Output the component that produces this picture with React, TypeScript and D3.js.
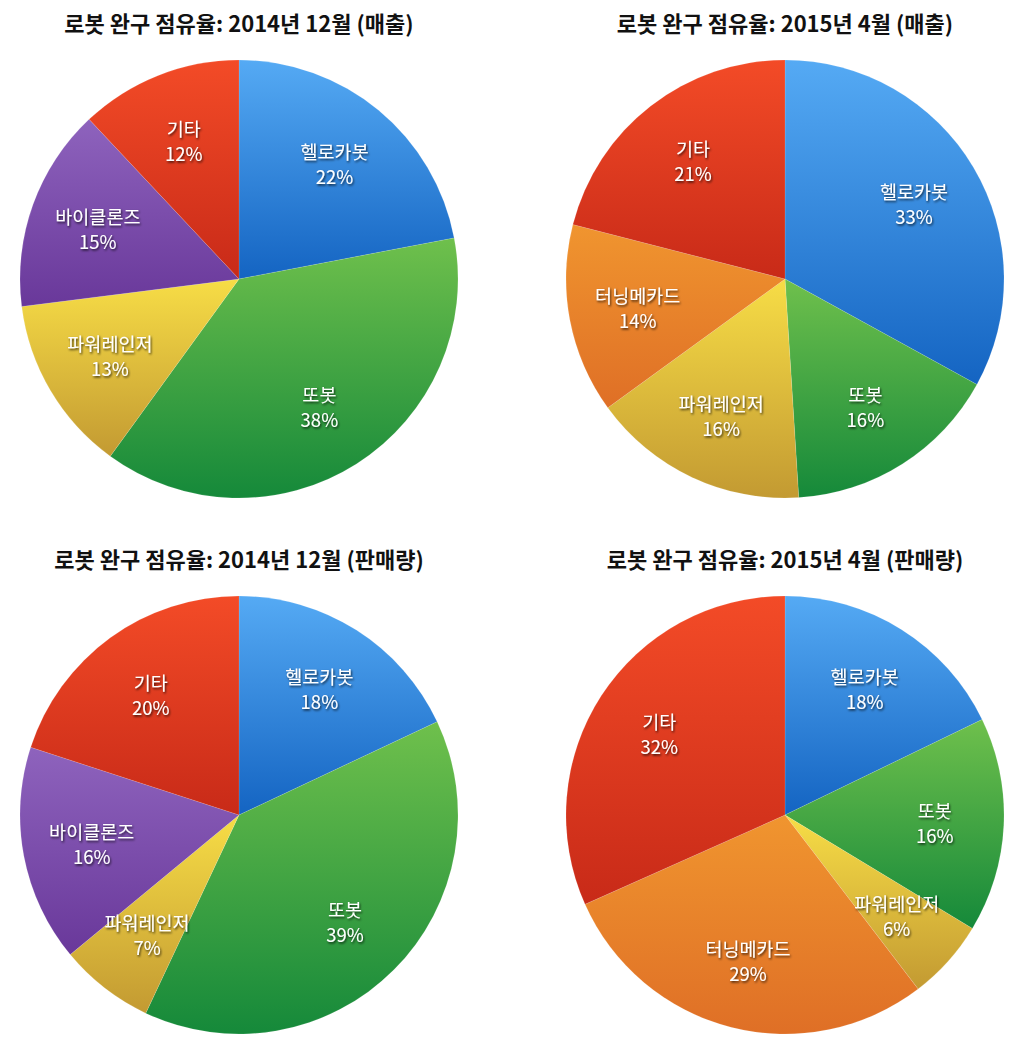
import { useEffect, useRef } from 'react';
import * as d3 from 'd3';

// Titles of the four pies (row-major)
const titles = [
  '로봇 완구 점유율: 2014년 12월 (매출)',
  '로봇 완구 점유율: 2015년 4월 (매출)',
  '로봇 완구 점유율: 2014년 12월 (판매량)',
  '로봇 완구 점유율: 2015년 4월 (판매량)',
];

// Categories, clockwise from 12 o'clock
const cats2014 = ['헬로카봇', '또봇', '파워레인저', '바이클론즈', '기타'];
const cats2015 = ['헬로카봇', '또봇', '파워레인저', '터닝메카드', '기타'];

const sales2014 = [22, 38, 13, 15, 12];
const sales2015 = [33, 16, 16, 14, 21];
const units2014 = [18, 39, 7, 16, 20];
const units2015 = [18, 16, 6, 29, 32];

const charts = [
  { title: titles[0], cats: cats2014, values: sales2014 },
  { title: titles[1], cats: cats2015, values: sales2015 },
  { title: titles[2], cats: cats2014, values: units2014 },
  { title: titles[3], cats: cats2015, values: units2015 },
];

// light (top) / dark (bottom) gradient stops per brand
const palette: Record<string, [string, string]> = {
  헬로카봇: ['#55aaf4', '#1464c2'],
  또봇: ['#6fc04c', '#15893a'],
  파워레인저: ['#f7dd46', '#c39a32'],
  바이클론즈: ['#8e63bd', '#69389a'],
  기타: ['#f34b27', '#c82a18'],
  터닝메카드: ['#f0952f', '#df6f26'],
};

export default function App() {
  const svgRef = useRef<SVGSVGElement>(null);

  useEffect(() => {
    if (!svgRef.current) return;

    const width = 1024;
    const height = 1049;
    const radius = 219;
    const centers = [
      [239, 279],
      [785, 279],
      [239, 815],
      [785, 815],
    ];
    const titleY = [32, 32, 568, 568];
    const font = '"Noto Sans CJK KR", "Noto Sans", sans-serif';

    const svg = d3.select(svgRef.current);
    svg.selectAll('*').remove();
    svg.attr('width', width).attr('height', height);

    const defs = svg.append('defs');
    Object.entries(palette).forEach(([name, [c1, c2]], i) => {
      const g = defs.append('linearGradient')
        .attr('id', `grad-${i}`)
        .attr('x1', 0).attr('y1', 0).attr('x2', 0).attr('y2', 1);
      g.append('stop').attr('offset', '0%').attr('stop-color', c1);
      g.append('stop').attr('offset', '100%').attr('stop-color', c2);
    });
    const gradId = (name: string) => `grad-${Object.keys(palette).indexOf(name)}`;

    const shadow = defs.append('filter').attr('id', 'txt-shadow')
      .attr('x', '-20%').attr('y', '-40%').attr('width', '140%').attr('height', '180%');
    shadow.append('feDropShadow')
      .attr('dx', 1).attr('dy', 1.5).attr('stdDeviation', 1)
      .attr('flood-color', '#000').attr('flood-opacity', 0.75);

    const pie = d3.pie<number>().sort(null).value(d => d);
    const arc = d3.arc<d3.PieArcDatum<number>>().innerRadius(0).outerRadius(radius);
    const labelArc = d3.arc<d3.PieArcDatum<number>>().innerRadius(150).outerRadius(150);

    charts.forEach((c, ci) => {
      const [cx, cy] = centers[ci];

      svg.append('text')
        .attr('x', cx)
        .attr('y', titleY[ci])
        .attr('text-anchor', 'middle')
        .attr('font-family', font)
        .attr('font-weight', 'bold')
        .attr('font-size', 22)
        .attr('fill', '#111')
        .text(c.title);

      const g = svg.append('g').attr('transform', `translate(${cx},${cy})`);
      const arcs = pie(c.values);

      g.selectAll('path.slice')
        .data(arcs)
        .join('path')
        .attr('class', 'slice')
        .attr('d', arc)
        .attr('fill', (d, i) => `url(#${gradId(c.cats[i])})`)
        .attr('stroke', 'rgba(255,255,255,0.2)')
        .attr('stroke-width', 0.6);

      const labels = g.selectAll('text.lbl')
        .data(arcs)
        .join('text')
        .attr('class', 'lbl')
        .attr('transform', d => `translate(${labelArc.centroid(d)})`)
        .attr('text-anchor', 'middle')
        .attr('font-family', font)
        .attr('font-size', 18.5)
        .attr('fill', '#fff')
        .attr('filter', 'url(#txt-shadow)');

      labels.append('tspan')
        .attr('x', 0)
        .attr('y', -4)
        .text((d, i) => c.cats[i]);
      labels.append('tspan')
        .attr('x', 0)
        .attr('y', 21)
        .text(d => `${d.data}%`);
    });
  }, []);

  return (
    <div style={{ margin: -8, background: '#fff' }}>
      <svg ref={svgRef} style={{ display: 'block' }}></svg>
    </div>
  );
}
